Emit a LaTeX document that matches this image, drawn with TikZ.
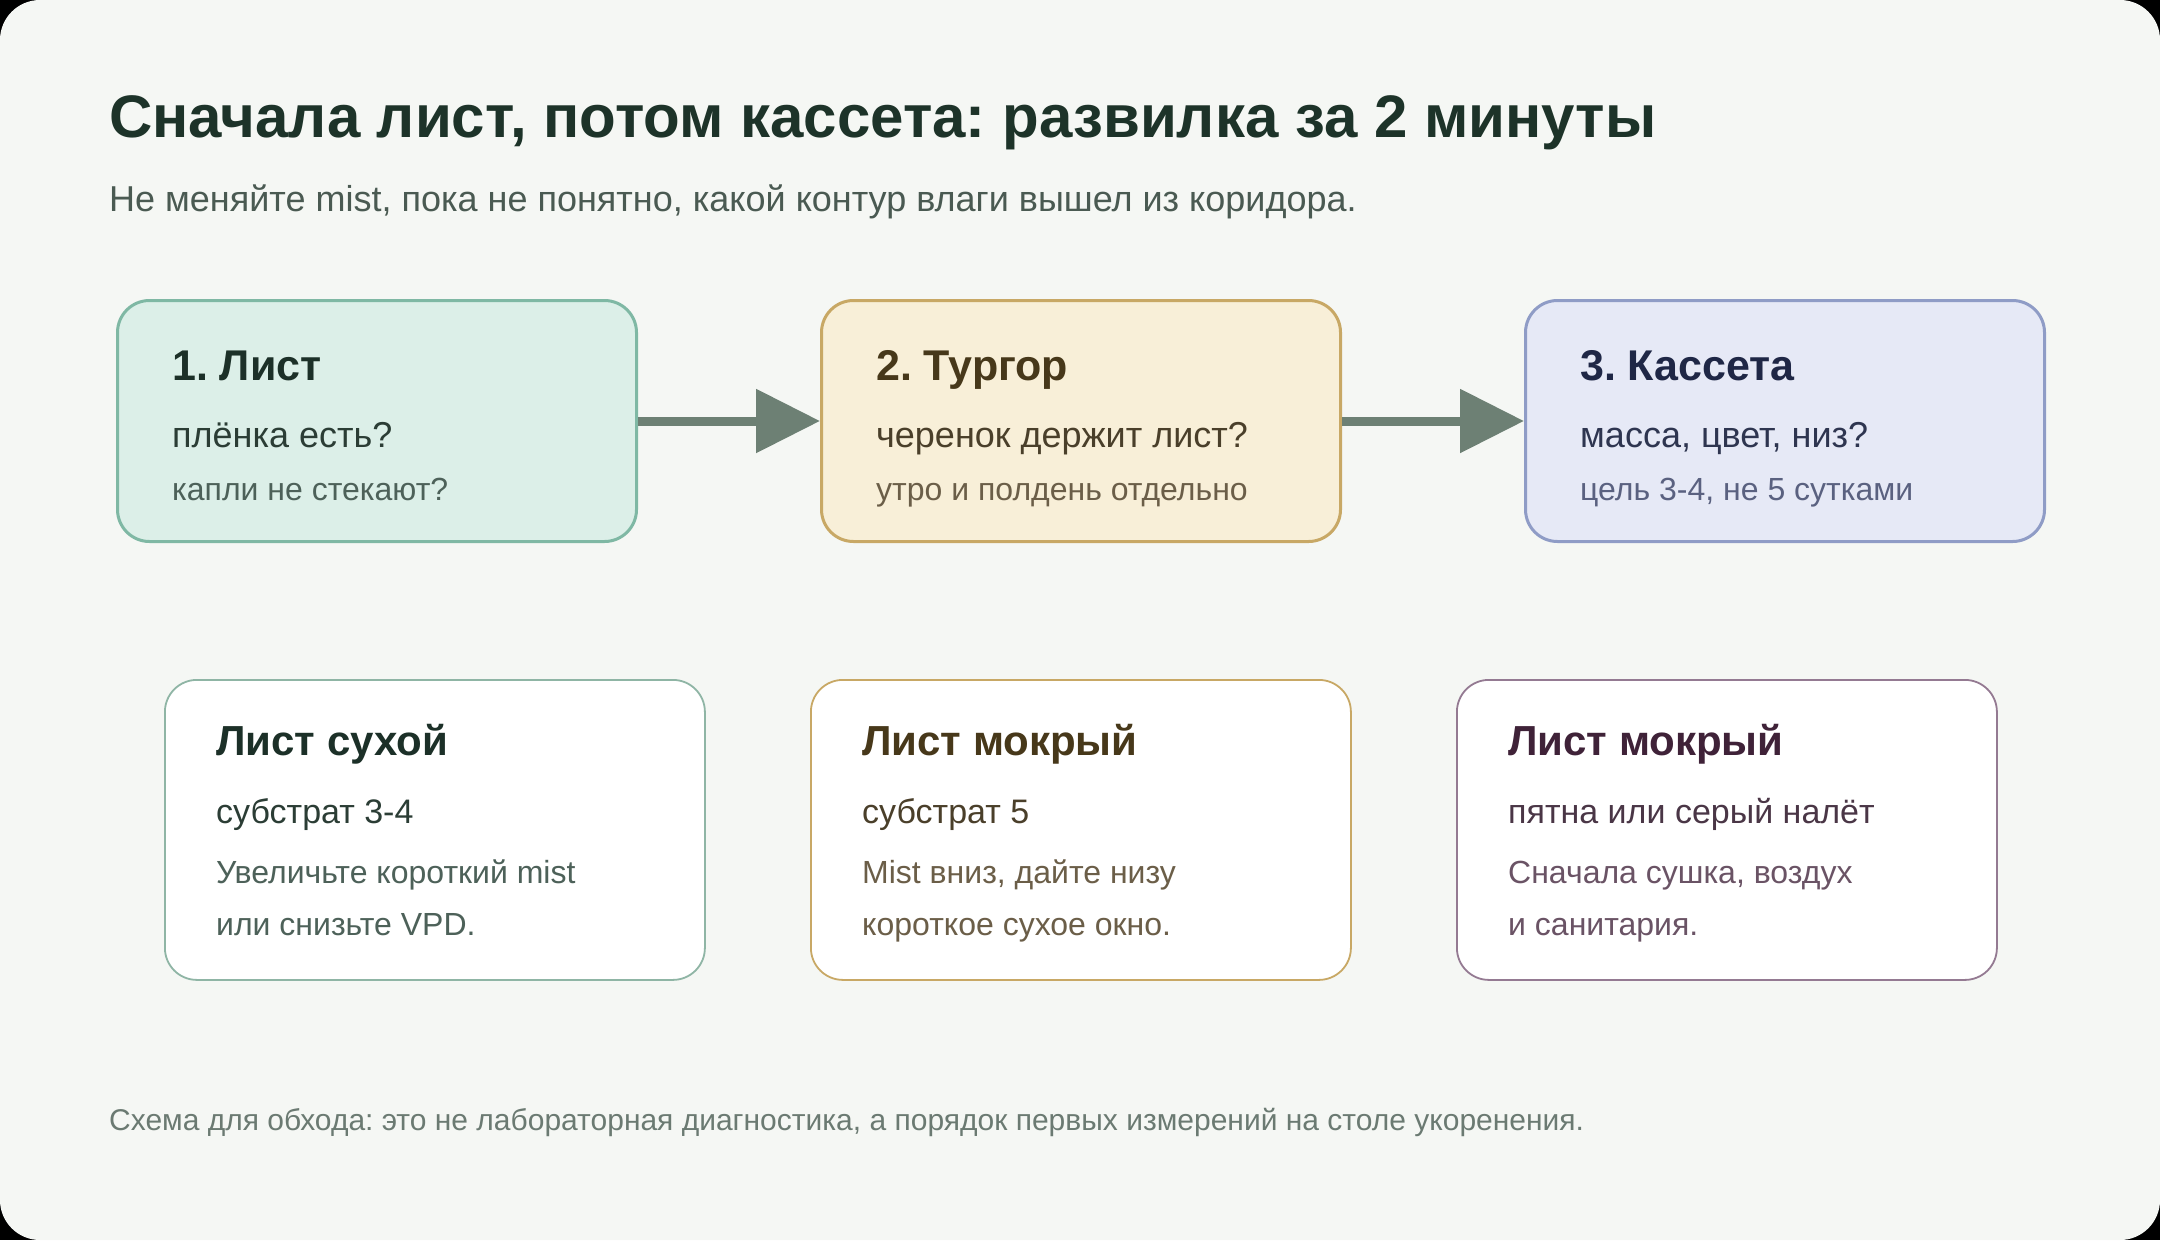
\documentclass[tikz,border=0pt]{standalone}
\usepackage{fontspec}
\setmainfont{Liberation Sans}
\usetikzlibrary{arrows.meta}
\frenchspacing
\definecolor{bg}{HTML}{F5F7F4}
\definecolor{ttl}{HTML}{1D3329}
\definecolor{sub}{HTML}{4A5A52}
\definecolor{arr}{HTML}{6D8074}
\definecolor{foot}{HTML}{6B7A72}
\definecolor{gfill}{HTML}{DCEFE8}\definecolor{gline}{HTML}{7FB8A4}
\definecolor{gA}{HTML}{1C3028}\definecolor{gB}{HTML}{2B3D35}\definecolor{gC}{HTML}{4D6159}
\definecolor{yfill}{HTML}{F8EFD8}\definecolor{yline}{HTML}{C8A865}
\definecolor{yA}{HTML}{47381A}\definecolor{yB}{HTML}{4A3F2A}\definecolor{yC}{HTML}{6B5E48}
\definecolor{bfill}{HTML}{E6E9F6}\definecolor{bline}{HTML}{8F9CC6}
\definecolor{bA}{HTML}{1F2746}\definecolor{bB}{HTML}{2E3550}\definecolor{bC}{HTML}{5A6180}
\definecolor{aline}{HTML}{8FB5A5}
\definecolor{mline}{HTML}{947A92}
\definecolor{mA}{HTML}{3F2238}\definecolor{mB}{HTML}{4A3646}\definecolor{mC}{HTML}{6A5365}
\tikzset{
  topbox/.style={draw, line width=3pt, rounded corners=32pt, minimum width=519pt, minimum height=241pt, anchor=north west, inner sep=0pt},
  botbox/.style={draw, line width=1.8pt, fill=white, rounded corners=32pt, minimum width=540pt, minimum height=300pt, anchor=north west, inner sep=0pt},
  txt/.style={anchor=base west, inner sep=0pt, font=\frenchspacing},
  ttitle/.style={txt, font=\fontsize{43}{50}\selectfont\bfseries},
  tline/.style={txt, font=\fontsize{36}{42}\selectfont},
  tsmall/.style={txt, font=\fontsize{32}{38}\selectfont},
  btitle/.style={txt, font=\fontsize{42}{50}\selectfont\bfseries},
  bline/.style={txt, font=\fontsize{34}{40}\selectfont},
  flow/.style={draw=arr, line width=9pt, -{Triangle[length=64pt,width=62pt]}}
}
\begin{document}
\begin{tikzpicture}[x=1pt,y=-1pt]
\useasboundingbox (0,0) rectangle (2160,1240);
\fill[black] (0,0) rectangle (2160,1240);
\fill[bg, rounded corners=40pt] (0,0) rectangle (2160,1240);
\node[txt, text=ttl, font=\fontsize{60}{72}\selectfont\bfseries] (title) at (109,137) {Сначала лист, потом кассета: развилка за 2 минуты};
\node[txt, text=sub, font=\fontsize{36}{42}\selectfont] (subtitle) at (109,211) {Не меняйте mist, пока не понятно, какой контур влаги вышел из коридора.};
% top boxes
\node[topbox, fill=gfill, draw=gline] (b1) at (116,299) {};
\node[topbox, fill=yfill, draw=yline] (b2) at (820,299) {};
\node[topbox, fill=bfill, draw=bline] (b3) at (1524,299) {};
\node[ttitle, text=gA] (b1t) at (172,380) {1. Лист};
\node[tline, text=gB] (b1a) at (172,447) {плёнка есть?};
\node[tsmall, text=gC] (b1b) at (172,500) {капли не стекают?};
\node[ttitle, text=yA] (b2t) at (876,380) {2. Тургор};
\node[tline, text=yB] (b2a) at (876,447) {черенок держит лист?};
\node[tsmall, text=yC] (b2b) at (876,500) {утро и полдень отдельно};
\node[ttitle, text=bA] (b3t) at (1580,380) {3. Кассета};
\node[tline, text=bB] (b3a) at (1580,447) {масса, цвет, низ?};
\node[tsmall, text=bC] (b3b) at (1580,500) {цель 3-4, не 5 сутками};
\draw[flow] (b1.east) -- (b2.west);
\draw[flow] (b2.east) -- (b3.west);
% bottom boxes
\node[botbox, draw=aline] (c1) at (164,679) {};
\node[botbox, draw=yline] (c2) at (810,679) {};
\node[botbox, draw=mline] (c3) at (1456,679) {};
\node[btitle, text=gA] (c1t) at (216,755) {Лист сухой};
\node[bline, text=gB] (c1a) at (216,823) {субстрат 3-4};
\node[tsmall, text=gC] (c1b) at (216,883) {Увеличьте короткий mist};
\node[tsmall, text=gC] (c1c) at (216,935) {или снизьте VPD.};
\node[btitle, text=yA] (c2t) at (862,755) {Лист мокрый};
\node[bline, text=yB] (c2a) at (862,823) {субстрат 5};
\node[tsmall, text=yC] (c2b) at (862,883) {Mist вниз, дайте низу};
\node[tsmall, text=yC] (c2c) at (862,935) {короткое сухое окно.};
\node[btitle, text=mA] (c3t) at (1508,755) {Лист мокрый};
\node[bline, text=mB] (c3a) at (1508,823) {пятна или серый налёт};
\node[tsmall, text=mC] (c3b) at (1508,883) {Сначала сушка, воздух};
\node[tsmall, text=mC] (c3c) at (1508,935) {и санитария.};
\node[txt, text=foot, font=\fontsize{30}{36}\selectfont] (footer) at (109,1130) {Схема для обхода: это не лабораторная диагностика, а порядок первых измерений на столе укоренения.};
\end{tikzpicture}
\end{document}
